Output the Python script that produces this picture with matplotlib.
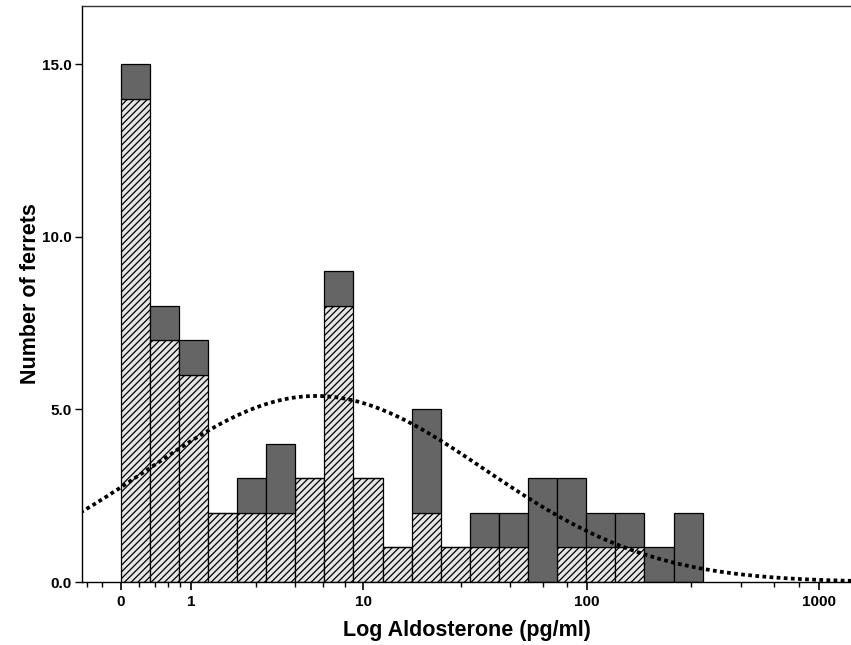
import numpy as np
import matplotlib
matplotlib.use("Agg")
import matplotlib.pyplot as plt

plt.rcParams['font.family'] = ['Liberation Sans', 'DejaVu Sans']
plt.rcParams['hatch.linewidth'] = 0.9

# histogram bins on log10(aldosterone + 1), width 0.125
bin_edges = np.linspace(0.0, 2.5, 21)

# counts per bin: hatched group (bottom) and dark group (stacked on top)
hatched_counts = [14, 7, 6, 2, 2, 2, 3, 8, 3, 1, 2, 1, 1, 1, 0, 1, 1, 1, 0, 0]
dark_counts = [1, 1, 1, 0, 1, 2, 0, 1, 0, 0, 3, 0, 1, 1, 3, 2, 1, 1, 1, 2]

# fitted normal curve (mean / sd in log units)
curve_mean = 0.84
curve_sd = 0.722

# axis labels in original units
major_vals = [0, 1, 10, 100, 1000]
major_labels = ['0', '1', '10', '100', '1000']
minor_vals = [0.2, 0.4, 0.6, 0.8, 2.8, 4.6, 6.4, 8.2,
              28, 46, 64, 82, 280, 460, 640, 820]


def to_axis(v):
    return np.log10(np.asarray(v, dtype=float) + 1.0)


fig = plt.figure(figsize=(8.51, 6.45), dpi=100)
ax = fig.add_axes([81.7 / 851, 1 - 582 / 645, (853 - 81.7) / 851, (582 - 6) / 645])

left = bin_edges[:-1]
width = np.diff(bin_edges)
hatched = np.array(hatched_counts)
dark = np.array(dark_counts)

ax.bar(left, hatched, width=width, align='edge', facecolor='#e6e6e6',
       edgecolor='black', linewidth=0.9, hatch='/////', zorder=2)
ax.bar(left, dark, width=width, bottom=hatched, align='edge',
       facecolor='#656565', edgecolor='black', linewidth=0.9, zorder=2)

# normal curve scaled to the histogram
n_total = hatched.sum() + dark.sum()
xs = np.linspace(-0.2, 3.2, 400)
ys = n_total * 0.125 / (curve_sd * np.sqrt(2 * np.pi)) * \
    np.exp(-0.5 * ((xs - curve_mean) / curve_sd) ** 2)
ax.plot(xs, ys, color='black', linewidth=2.7, linestyle=(0, (1, 0.9)),
        zorder=3, clip_on=True)

ax.set_xlim(-0.1675, 3.146)
ax.set_ylim(0, 16.68)

ax.set_xticks(to_axis(major_vals))
ax.set_xticklabels(major_labels)
ax.set_xticks(np.concatenate([to_axis(minor_vals), [-np.log10(1.2), -np.log10(1.4)]]),
              minor=True)
ax.set_yticks([0, 5, 10, 15])
ax.set_yticklabels(['0.0', '5.0', '10.0', '15.0'])

ax.tick_params(axis='x', which='major', length=5.8, width=1.2, pad=3.6,
               labelsize=11, direction='out')
ax.tick_params(axis='x', which='minor', length=3.6, width=1.0, direction='out')
ax.tick_params(axis='y', which='major', length=5, width=1.0, pad=2,
               labelsize=11, direction='out')
for lab in ax.get_xticklabels() + ax.get_yticklabels():
    lab.set_fontweight('bold')

ax.spines['right'].set_visible(False)
for s in ['left', 'bottom', 'top']:
    ax.spines[s].set_linewidth(1.0)
ax.spines['top'].set_color('#333333')

ax.set_xlabel('Log Aldosterone (pg/ml)', fontsize=15.5, fontweight='bold',
              labelpad=8)
ax.set_ylabel('Number of ferrets', fontsize=15.5, fontweight='bold',
              labelpad=1)

fig.savefig('out.png', dpi=100)
